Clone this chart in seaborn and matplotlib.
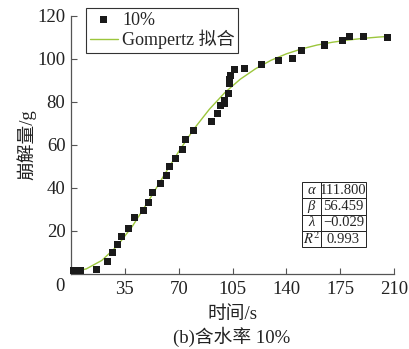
import matplotlib
matplotlib.use("Agg")
import matplotlib.pyplot as plt
import seaborn as sns
import pandas as pd

# measured points (time / s, disintegration / g)
time_s = [1.5, 6.3, 16.7, 23.9, 27.2, 30.2, 32.6, 37.4, 41.3, 47.1, 50.4, 53.2, 58.0,
          61.9, 64.1, 67.8, 72.6, 74.3, 79.7, 91.1, 95.0, 97.1, 99.7, 99.9, 102.1,
          102.8, 103.0, 103.7, 106.3, 113.0, 123.9, 134.9, 144.1, 149.9, 164.7,
          176.2, 180.8, 190.3, 205.5]
mass_g = [1.5, 1.5, 2.2, 5.7, 10.1, 13.5, 17.4, 21.2, 26.4, 29.3, 33.3, 37.8, 42.0,
          45.7, 49.9, 53.6, 57.7, 62.6, 66.5, 70.7, 74.7, 78.1, 79.4, 80.6, 84.0,
          88.4, 90.2, 92.1, 95.2, 95.5, 97.4, 99.4, 100.0, 103.7, 106.4, 108.4,
          110.4, 110.4, 110.1]

# Gompertz fit curve
fit_t = [0, 10, 20, 30, 40, 50, 60, 70, 80, 90, 100, 110, 120, 130, 140, 150,
         160, 170, 180, 190, 200, 207]
fit_y = [0.7, 2.4, 6.3, 13.0, 22.3, 33.5, 45.3, 56.9, 67.5, 76.6, 84.3, 90.5, 95.4,
         99.3, 102.3, 104.6, 106.4, 107.7, 108.7, 109.5, 110.1, 110.4]

param_names = ["α", "β", "λ", "$R^2$"]
param_values = ["111.800", "56.459", "−0.029", "0.993"]

x_ticks = [35, 70, 105, 140, 175, 210]
y_ticks = [20, 40, 60, 80, 100, 120]

sns.set_style("ticks")
plt.rcParams["font.family"] = ["Liberation Serif", "Noto Sans CJK SC"]
plt.rcParams["mathtext.fontset"] = "stix"

fig = plt.figure(figsize=(4.09, 3.49), dpi=100)
ax = fig.add_axes([0.1736, 0.2149, 0.790, 0.740])

pts = pd.DataFrame({"t": time_s, "m": mass_g})
fit = pd.DataFrame({"t": fit_t, "m": fit_y})

sns.lineplot(data=fit, x="t", y="m", ax=ax, color="#9cc63c", linewidth=1.0,
             label="Gompertz 拟合", zorder=2)
sns.scatterplot(data=pts, x="t", y="m", ax=ax, marker="s", s=26, color="#1a1a1a",
                edgecolor="none", label="10%", zorder=3, clip_on=False)

ax.set_xlim(0, 210)
ax.set_ylim(0, 120)
ax.set_xticks(x_ticks)
ax.set_yticks(y_ticks)
ax.tick_params(direction="in", length=4, width=0.8, color="#555555",
               labelsize=13.5, labelcolor="#222222")
ax.tick_params(axis="x", pad=5)
ax.tick_params(axis="y", pad=4)
for side in ["top", "right"]:
    ax.spines[side].set_visible(False)
for side in ["left", "bottom"]:
    ax.spines[side].set_color("#555555")
    ax.spines[side].set_linewidth(0.9)

ax.text(-0.035, -0.05, "0", transform=ax.transAxes, ha="center", va="center",
        fontsize=13.5, color="#222222")

ax.set_xlabel("时间/s", fontsize=13.5, color="#222222", labelpad=6)
ax.set_ylabel("崩解量/g", fontsize=13.5, color="#222222", labelpad=1)
fig.text(0.567, 0.034, "(b)含水率 10%", ha="center", va="center", fontsize=13.5,
         color="#222222")

handles, labels = ax.get_legend_handles_labels()
order = [labels.index("10%"), labels.index("Gompertz 拟合")]
leg = ax.legend([handles[i] for i in order], [labels[i] for i in order],
                loc="upper left", bbox_to_anchor=(0.21, 0.977),
                bbox_transform=fig.transFigure, frameon=True, fancybox=False,
                edgecolor="black", fontsize=13, handlelength=1.6,
                handletextpad=0.2, borderpad=0.2, labelspacing=0.05,
                borderaxespad=0)
leg.get_frame().set_linewidth(0.8)

tbl = ax.table(cellText=[[n, v] for n, v in zip(param_names, param_values)],
               colWidths=[0.3, 0.7], cellLoc="center",
               bbox=[0.714, 0.103, 0.199, 0.254])
tbl.auto_set_font_size(False)
tbl.set_fontsize(10.5)
for (r, c), cell in tbl.get_celld().items():
    cell.set_linewidth(0.7)
    cell.set_edgecolor("#222222")
    cell.set_facecolor("white")
    if c == 0:
        cell.get_text().set_fontstyle("italic")
    cell.PAD = 0.02

fig.savefig("out.png", dpi=100)
